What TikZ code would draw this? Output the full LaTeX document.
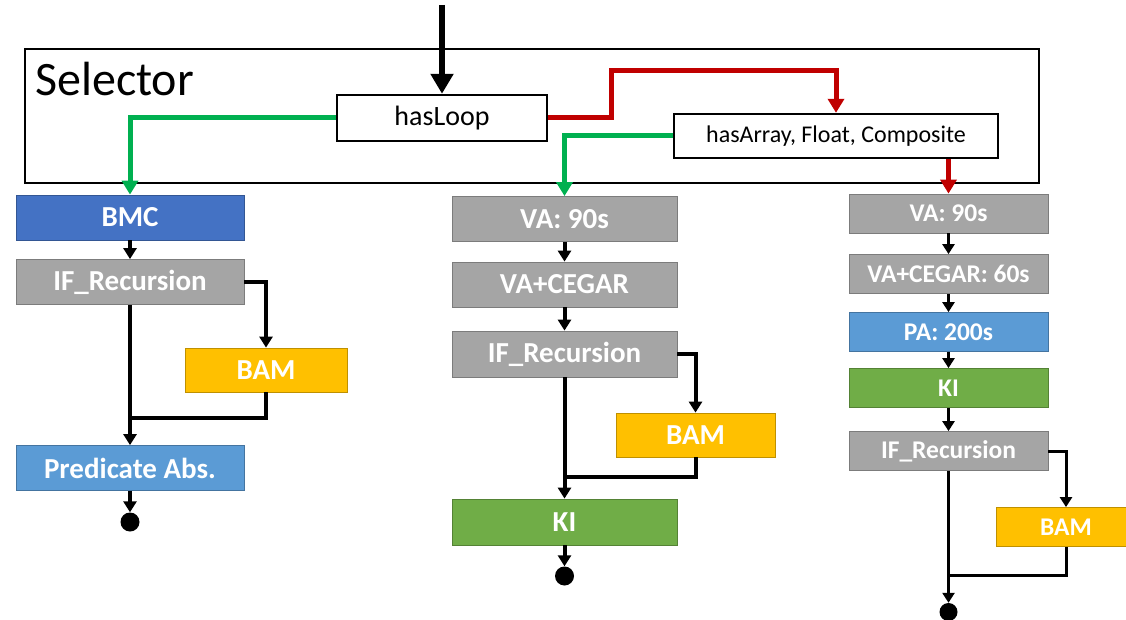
\documentclass[tikz,border=0pt]{standalone}
\usepackage{fontspec}
\setmainfont{Carlito}
\usetikzlibrary{arrows.meta}

\definecolor{bmcblue}{HTML}{4472C4}
\definecolor{boxgray}{HTML}{A5A5A5}
\definecolor{bamyellow}{HTML}{FFC000}
\definecolor{pablue}{HTML}{5B9BD5}
\definecolor{kigreen}{HTML}{70AD47}
\definecolor{yesgreen}{HTML}{00B050}
\definecolor{nored}{HTML}{C00000}

\tikzset{
  algo/.style={draw=#1!75!black, fill=#1, line width=0.8pt, text=white,
    inner sep=0pt, minimum width=228pt, minimum height=45pt,
    font=\bfseries\fontsize{29}{31}\selectfont},
  algosmall/.style={algo=#1, minimum width=199pt, minimum height=39pt,
    font=\bfseries\fontsize{25.5}{27}\selectfont},
  check/.style={draw, line width=2.4pt, fill=white, inner sep=0pt},
  wire/.style={line width=4pt},
  flow/.style={wire, -{Triangle[width=13pt,length=11pt]}},
  thinflow/.style={line width=3pt, -{Triangle[width=12pt,length=10pt]}},
  yesflow/.style={draw=yesgreen, line width=5pt, -{Triangle[width=16pt,length=14pt]}},
  noflow/.style={draw=nored, line width=5pt, -{Triangle[width=16pt,length=14pt]}},
  enddot/.style={circle, fill=black, inner sep=0pt, minimum size=19pt}
}

\begin{document}
\begin{tikzpicture}[x=1pt,y=-1pt]
\useasboundingbox (0,0) rectangle (1126,620);

% Selettore
\node[draw, line width=2.4pt, inner sep=0pt, minimum width=1014pt, minimum height=134pt] (sel) at (532,116) {};
\node[anchor=base west, font=\fontsize{48}{50}\selectfont, inner sep=0pt] (seltxt) at (35,96) {Selector};
\node[check, minimum width=210pt, minimum height=46pt, font=\fontsize{28}{30}\selectfont] (hasloop) at (442,118) {hasLoop};
\node[check, minimum width=324pt, minimum height=44pt, font=\fontsize{24}{26}\selectfont] (hasarr) at (836,136) {hasArray, Float, Composite};
\coordinate (start) at (442,5);
\coordinate (rtop) at (611,71);
\draw[line width=6pt, -{Triangle[width=22pt,length=20pt]}] (start) -- (hasloop.north);

% Colonna 1
\node[algo=bmcblue] (bmc) at (130,217.5) {BMC};
\node[algo=boxgray] (ifa) at (130,282) {IF\_Recursion};
\node[algo=bamyellow, minimum width=162pt, minimum height=44pt] (bama) at (266,370) {BAM};
\node[algo=pablue] (paa) at (130,468) {Predicate Abs.};
\node[enddot] (enda) at (130,522) {};
\coordinate (ma) at (130,418);

% Colonna 2
\node[algo=boxgray, minimum width=225pt] (vab) at (564.5,219) {VA: 90s};
\node[algo=boxgray, minimum width=225pt] (cgb) at (564.5,284.5) {VA+CEGAR};
\node[algo=boxgray, minimum width=225pt, minimum height=46pt] (ifb) at (564.5,354) {IF\_Recursion};
\node[algo=bamyellow, minimum width=159pt, minimum height=44pt] (bamb) at (695.5,435) {BAM};
\node[algo=kigreen, minimum width=225pt, minimum height=46pt] (kib) at (564.5,522) {KI};
\node[enddot] (endb) at (564.5,576) {};
\coordinate (mb) at (564.5,477);

% Colonna 3
\node[algosmall=boxgray] (vac) at (948.5,213.5) {VA: 90s};
\node[algosmall=boxgray] (cgc) at (948.5,274) {VA+CEGAR: 60s};
\node[algosmall=pablue] (pac) at (948.5,332) {PA: 200s};
\node[algosmall=kigreen] (kic) at (948.5,388) {KI};
\node[algosmall=boxgray] (ifc) at (948.5,451) {IF\_Recursion};
\node[algosmall=bamyellow, minimum width=140pt] (bamc) at (1066,527) {BAM};
\node[enddot, minimum size=18pt] (endc) at (948.5,612) {};
\coordinate (mc) at (948.5,575);

% Scelte del selettore
\draw[yesflow] (hasloop.west) -| (bmc.north);
\draw[noflow] (hasloop.east) -| (rtop) -| (hasarr.north);
\draw[yesflow] (hasarr.west) -| (vab.north);
\draw[noflow] (hasarr.south -| vac.north) -- (vac.north);

% Frecce in colonna
\foreach \a/\b in {bmc/ifa, ifa/paa, paa/enda, vab/cgb, cgb/ifb, ifb/kib, kib/endb} {
    \draw[flow] (\a.south) -- (\b.north);
}
\foreach \a/\b in {vac/cgc, cgc/pac, pac/kic, kic/ifc, ifc/endc} {
    \draw[thinflow] (\a.south) -- (\b.north);
}

% Ramo BAM
\draw[flow] (ifa.east) -| (bama.north);
\draw[wire] (bama.south) |- (ma);
\draw[flow] (ifb.east) -| (bamb.north);
\draw[wire] (bamb.south) |- (mb);
\draw[thinflow] (ifc.east) -| (bamc.north);
\draw[line width=3pt] (bamc.south) |- (mc);
\end{tikzpicture}
\end{document}
